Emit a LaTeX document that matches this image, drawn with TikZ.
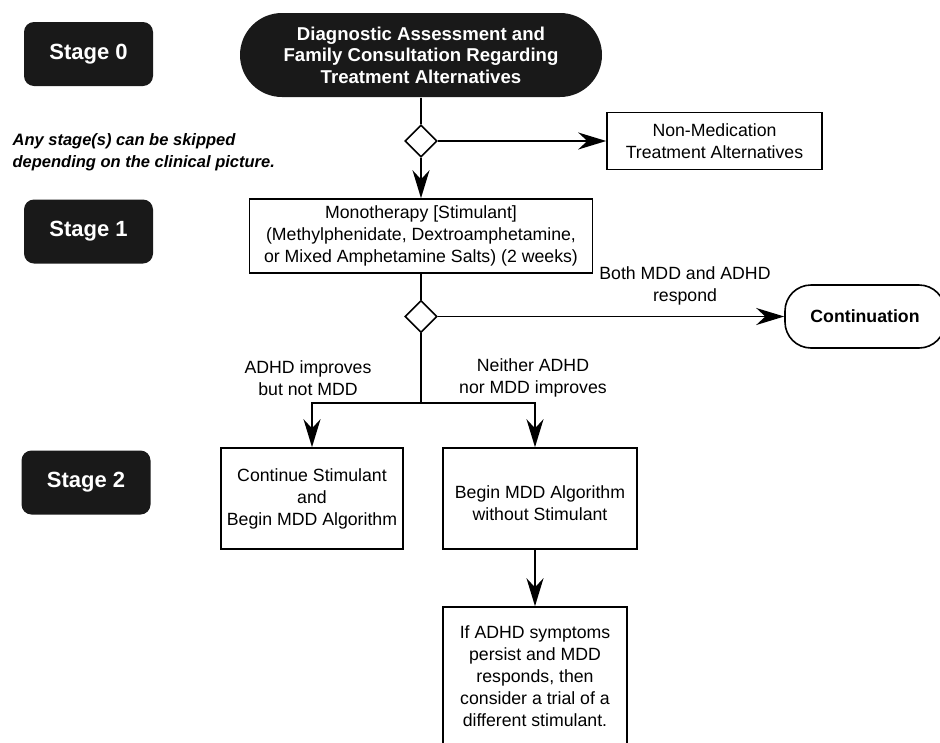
\documentclass[tikz,border=0pt]{standalone}
\usepackage{fontspec}
\setmainfont{Liberation Sans}
\usetikzlibrary{positioning}
\usetikzlibrary{shapes.geometric}
\usetikzlibrary{shapes.misc}
\usetikzlibrary{arrows.meta}

\begin{document}
\begin{tikzpicture}[x=1pt, y=-1pt, line width=1.6pt, font=\fontsize{17.7}{22}\selectfont]
      \tikzstyle{stage} = [fill=black!90, rounded corners=10pt, minimum width=129pt, minimum height=64pt, text=white, font=\fontsize{22}{26}\selectfont\bfseries]
      \tikzstyle{box} = [draw, align=center, inner sep=6pt]
      \tikzstyle{choice} = [draw, diamond, minimum width=32pt, minimum height=32pt, inner sep=0pt]
      \tikzstyle{flow} = [-{Stealth[length=28pt, width=17pt]}]

      \useasboundingbox (0,0) rectangle (940,742);

      \node (stage0) [stage] at (88.5,54) {Stage 0};
      \node (stage1) [stage] at (88.5,231.5) {Stage 1};
      \node (stage2) [stage] at (86,482.5) {Stage 2};
      \node (skipnote) [align=left, anchor=west, font=\fontsize{16.5}{22}\selectfont\bfseries\itshape] at (8.5,152) {Any stage(s) can be skipped\\depending on the clinical picture.};

      \node (start) [rounded rectangle, fill=black!90, text=white, align=center, minimum width=364pt, minimum height=84pt, inner sep=1pt, font=\fontsize{18.6}{21.5}\selectfont\bfseries] at (421,55) {Diagnostic Assessment and\\Family Consultation Regarding\\Treatment Alternatives};
      \node (d1) [choice] at (421,141) {};
      \node (nonmed) [box, minimum width=215pt, minimum height=57pt] at (714.5,141) {Non-Medication\\Treatment Alternatives};
      \node (mono) [box, minimum width=343pt, minimum height=74pt] at (421,236) {Monotherapy [Stimulant]\\(Methylphenidate, Dextroamphetamine,\\or Mixed Amphetamine Salts) (2 weeks)};
      \node (d2) [choice] at (421,316.5) {};
      \node (bothlbl) [align=center] at (685,286) {Both MDD and ADHD\\respond};
      \node (cont) [draw, rounded corners=26pt, minimum width=160pt, minimum height=63pt, font=\fontsize{17.7}{22}\selectfont\bfseries] at (865,316.5) {Continuation};

      \coordinate (split) at (421,403);
      \node (adhdlbl) [align=center] at (308,378) {ADHD improves\\but not MDD};
      \node (neitherlbl) [align=center] at (533,378) {Neither ADHD\\nor MDD improves};

      \node (contstim) [box, minimum width=182pt, minimum height=101pt] at (312,498.5) {Continue Stimulant\\and\\Begin MDD Algorithm};
      % text sits a little low in this box
      \node (mddonly) [box, minimum width=194pt, minimum height=101pt] at (540,498.5) {\raisebox{-7pt}[\height][\depth]{\begin{tabular}{@{}c@{}}Begin MDD Algorithm\\without Stimulant\end{tabular}}};
      \node (trial) [box, minimum width=184pt, minimum height=138pt] at (535,676) {If ADHD symptoms\\persist and MDD\\responds, then\\consider a trial of a\\different stimulant.};

      \draw (start) -- (d1);
      \draw[flow] (d1) -- (nonmed);
      \draw[flow] (d1) -- (mono);
      \draw (mono) -- (d2);
      \draw[flow] (d2) -- (cont);
      \draw (d2) -- (split);
      \draw[flow] (split) -| (contstim);
      \draw[flow] (split) -| (trial.north |- mddonly.north);
      \draw[flow] (mddonly.south -| trial.north) -- (trial);
    \end{tikzpicture}
\end{document}
